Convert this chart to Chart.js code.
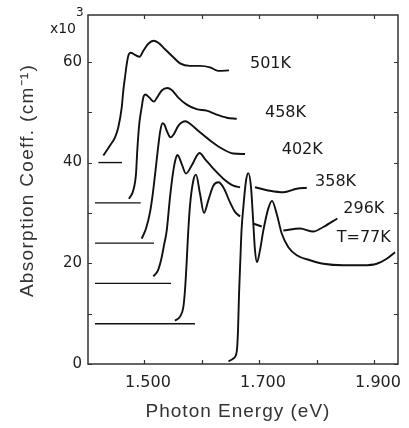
<!DOCTYPE html>
<html><head><meta charset="utf-8">
<script src="https://cdn.jsdelivr.net/npm/chart.js@4.4.0/dist/chart.umd.min.js"></script>
<style>html,body{margin:0;padding:0;background:#fff;}#wrap{width:409px;height:428px;}</style>
</head><body><div id="wrap"><canvas id="c" width="409" height="428"></canvas></div>
<script>
// Axis ticks
const xTickValues = [1.5, 1.6, 1.7, 1.8, 1.9];
const xTickLabels = ['1.500', '', '1.700', '', '1.900'];
const yTickValues = [0, 10, 20, 30, 40, 50, 60];
const yTickLabels = ['0', '', '20', '', '40', '', '60'];
const xTitle = 'Photon Energy (eV)';
const yTitle = 'Absorption Coeff. (cm\u207B\u00B9)';

// Series (photon energy eV, absorption x10^3 cm^-1, offset curves)
const seriesNames = ['501K', '458K', '402K', '358K', '296K', 'T=77K'];
const e501 = [1.4292,1.4409,1.4496,1.4553,1.4612,1.4640,1.4669,1.4699,1.4727,1.4769,1.4843,1.4922,1.4988,1.5075,1.5165,1.5249,1.5365,1.5510,1.5626,1.5800,1.5974,1.6148,1.6292,1.6478];
const a501 = [41.4,43.4,45.0,47.0,50.9,54.3,56.9,59.5,61.2,61.8,61.4,61.0,62.2,63.6,64.2,63.8,62.5,60.9,59.7,59.2,59.2,58.9,58.2,58.3];
const e458 = [1.4739,1.4814,1.4861,1.4883,1.4918,1.4960,1.4988,1.5026,1.5092,1.5174,1.5226,1.5308,1.5405,1.5482,1.5596,1.5743,1.5916,1.6090,1.6264,1.6438,1.6612];
const a458 = [32.8,34.5,37.8,42.4,47.7,51.0,52.9,53.5,52.9,52.1,52.9,54.3,54.8,54.4,52.9,51.5,50.6,50.3,49.5,48.9,48.7];
const e402 = [1.4960,1.5035,1.5104,1.5156,1.5200,1.5243,1.5283,1.5322,1.5356,1.5400,1.5461,1.5522,1.5596,1.5722,1.5800,1.5974,1.6148,1.6322,1.6553,1.6757];
const a402 = [24.9,26.9,30.1,34.1,38.4,42.8,46.3,47.8,47.5,46.2,45.0,45.7,47.3,48.2,47.7,46.0,44.4,43.0,41.8,41.7];
const e358 = [1.5162,1.5243,1.5304,1.5348,1.5395,1.5452,1.5510,1.5557,1.5583,1.5656,1.5730,1.5829,1.5965,1.6061,1.6205,1.6379,1.6553,1.6670,1.6780,1.6930,1.7191,1.7423,1.7656,1.7830];
const a358 = [17.4,18.6,21.0,23.6,26.5,33.1,38.4,41.0,41.5,39.7,37.8,39.4,41.9,40.7,38.8,36.8,35.4,35.1,null,35.1,34.4,34.1,34.8,35.0];
const e296 = [1.5539,1.5626,1.5684,1.5713,1.5739,1.5765,1.5800,1.5857,1.5904,1.5974,1.6043,1.6118,1.6205,1.6292,1.6379,1.6496,1.6583,1.6670,1.6780,1.6896,1.7047,1.7230,1.7423,1.7713,1.7944,1.8118,1.8362];
const a296 = [8.6,9.4,11.3,14.7,19.6,25.5,31.5,36.4,37.6,33.8,30.0,32.5,35.4,36.1,35.1,32.1,30.2,29.3,null,27.9,27.3,null,26.5,26.9,26.3,27.2,28.9];
const e77 = [1.6469,1.6553,1.6612,1.6635,1.6652,1.6675,1.6696,1.6727,1.6774,1.6814,1.6861,1.6901,1.6930,1.6965,1.7017,1.7075,1.7162,1.7226,1.7308,1.7395,1.7510,1.7656,1.7887,1.8118,1.8466,1.8814,1.9047,1.9221,1.9365];
const a77 = [0.5,1.1,2.4,6.7,13.7,20.6,26.5,31.1,36.4,37.9,35.1,27.9,22.6,20.2,22.6,26.5,30.9,32.4,29.8,25.9,23.2,21.6,20.6,19.9,19.6,19.6,19.9,20.9,22.2];

// Zero baselines of the offset curves (501K, 458K, 402K, 358K, 296K)
const baseStart = [1.4206, 1.4148, 1.4148, 1.4148, 1.4148];
const baseEnd = [1.4617, 1.4943, 1.5174, 1.5470, 1.5887];
const baseLevel = [40, 32, 24, 16, 8];

// Curve label anchors (left edge, vertical centre)
const labelE = [1.6843, 1.7104, 1.7395, 1.7974, 1.8466, 1.8351];
const labelA = [59.7, 49.8, 42.6, 36.1, 30.8, 25.0];

const X_MIN = 1.4026, X_MAX = 1.9417, Y_MIN = 0, Y_MAX = 69.3;

const pts = (xs, ys) => xs.map((x, i) => ({x: x, y: ys[i]}));
const curveSets = [[e501,a501],[e458,a458],[e402,a402],[e358,a358],[e296,a296],[e77,a77]];
const datasets = [];
curveSets.forEach((s, i) => {
  datasets.push({label: seriesNames[i], data: pts(s[0], s[1]), borderColor: '#111', borderWidth: 1.9,
    pointRadius: 0, fill: false, spanGaps: false, cubicInterpolationMode: 'monotone'});
});
baseLevel.forEach((lv, i) => {
  datasets.push({label: seriesNames[i] + ' baseline', data: [{x: baseStart[i], y: lv}, {x: baseEnd[i], y: lv}],
    borderColor: '#111', borderWidth: 1.4, pointRadius: 0, fill: false});
});

const decor = {
  id: 'decor',
  afterDatasetsDraw(chart) {
    const ctx = chart.ctx, a = chart.chartArea;
    const xs = chart.scales.x, ys = chart.scales.y;
    ctx.save();
    ctx.strokeStyle = '#333';
    ctx.lineWidth = 1.5;
    ctx.strokeRect(a.left, a.top, a.right - a.left, a.bottom - a.top);
    ctx.lineWidth = 1.2;
    const L = 4;
    ctx.beginPath();
    xTickValues.forEach(v => {
      const px = Math.round(xs.getPixelForValue(v)) + 0.5;
      ctx.moveTo(px, a.bottom); ctx.lineTo(px, a.bottom - L);
      ctx.moveTo(px, a.top); ctx.lineTo(px, a.top + L);
    });
    yTickValues.forEach(v => {
      const py = Math.round(ys.getPixelForValue(v)) + 0.5;
      ctx.moveTo(a.left, py); ctx.lineTo(a.left + L, py);
      ctx.moveTo(a.right, py); ctx.lineTo(a.right - L, py);
    });
    ctx.stroke();
    // curve labels
    ctx.fillStyle = '#1a1a1a';
    ctx.font = '16px "DejaVu Sans"';
    ctx.textAlign = 'left';
    ctx.textBaseline = 'middle';
    seriesNames.forEach((n, i) => {
      ctx.fillText(n, xs.getPixelForValue(labelE[i]), ys.getPixelForValue(labelA[i]));
    });
    // multiplier
    ctx.textAlign = 'right';
    ctx.textBaseline = 'alphabetic';
    ctx.font = '14px "DejaVu Sans"';
    ctx.fillText('x10', a.left - 12, a.top + 18);
    ctx.textAlign = 'left';
    ctx.font = '12px "DejaVu Sans"';
    ctx.fillText('3', a.left - 12, a.top + 1);
    // axis titles
    ctx.fillStyle = '#333';
    ctx.textAlign = 'center';
    ctx.textBaseline = 'middle';
    ctx.font = '19px "Liberation Sans"';
    if ('letterSpacing' in ctx) ctx.letterSpacing = '1px';
    ctx.fillText(xTitle, (a.left + a.right) / 2 - 5, a.bottom + 48);
    if ('letterSpacing' in ctx) ctx.letterSpacing = '1.3px';
    ctx.translate(28, (a.top + a.bottom) / 2 - 9);
    ctx.rotate(-Math.PI / 2);
    ctx.fillText(yTitle, 0, 0);
    ctx.restore();
  }
};

new Chart(document.getElementById('c'), {
  type: 'line',
  data: {datasets: datasets},
  options: {
    responsive: false, animation: false, devicePixelRatio: 1,
    layout: {padding: {top: 14, right: 11, left: 0, bottom: 0}},
    plugins: {legend: {display: false}, tooltip: {enabled: false}},
    scales: {
      x: {
        type: 'linear', min: X_MIN, max: X_MAX,
        afterBuildTicks: s => { s.ticks = xTickValues.map(v => ({value: v})); },
        afterFit: s => { s.height = 64; },
        grid: {display: false, drawTicks: false},
        border: {display: false},
        ticks: {callback: (v, i) => xTickLabels[i], font: {family: 'DejaVu Sans', size: 16}, color: '#222',
          padding: 9, labelOffset: 4, maxRotation: 0, autoSkip: false}
      },
      y: {
        type: 'linear', min: Y_MIN, max: Y_MAX,
        afterBuildTicks: s => { s.ticks = yTickValues.map(v => ({value: v})); },
        afterFit: s => { s.width = 88; },
        grid: {display: false, drawTicks: false},
        border: {display: false},
        ticks: {callback: (v, i) => yTickLabels[i], font: {family: 'DejaVu Sans', size: 15}, color: '#222',
          padding: 6, autoSkip: false}
      }
    }
  },
  plugins: [decor]
});
</script>
</body></html>
